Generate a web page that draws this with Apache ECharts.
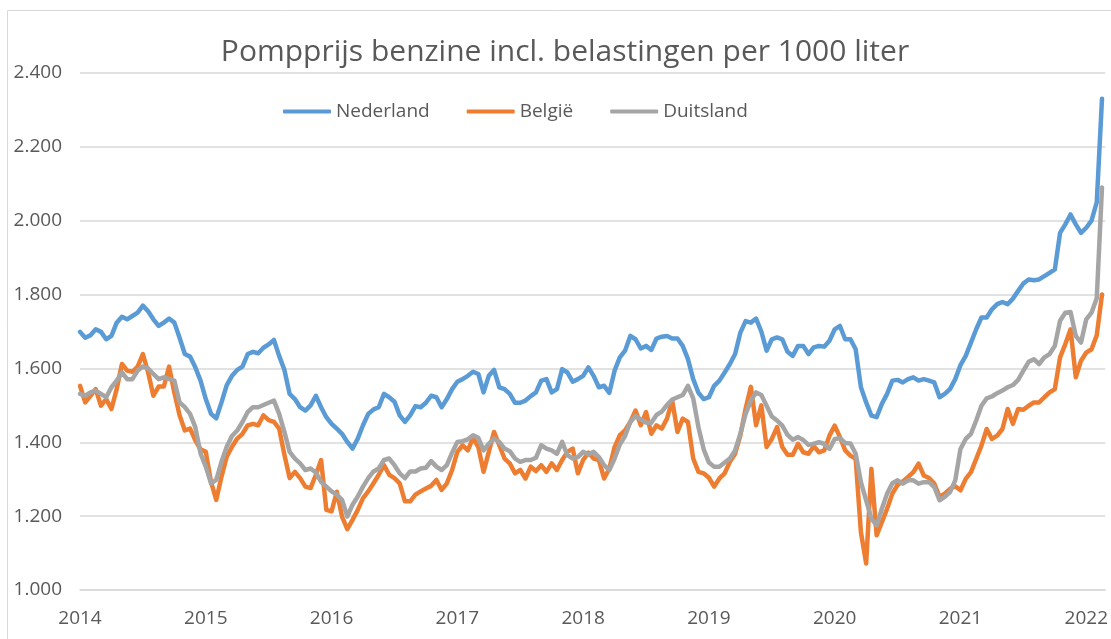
<!DOCTYPE html>
<html>
<head>
<meta charset="utf-8">
<script src="https://cdn.jsdelivr.net/npm/echarts@6/dist/echarts.min.js"></script>
<style>
  html, body { margin: 0; padding: 0; background: #fff; }
  #chart { width: 1111px; height: 639px; }
</style>
</head>
<body>
<div id="chart"></div>
<script>
// half-monthly readings, starting January 2014
const startYear = 2014
const perYear = 24

const yearTicks = [2014, 2015, 2016, 2017, 2018, 2019, 2020, 2021, 2022]

const nederland = [
  1699, 1683, 1690, 1706, 1699, 1679, 1688, 1724, 1740, 1733,
  1742, 1751, 1770, 1755, 1733, 1715, 1724, 1735, 1724, 1683,
  1639, 1632, 1603, 1567, 1517, 1477, 1465, 1508, 1555, 1580,
  1596, 1605, 1639, 1645, 1641, 1656, 1665, 1677, 1634, 1596,
  1531, 1517, 1495, 1486, 1500, 1526, 1495, 1468, 1450, 1437,
  1423, 1401, 1383, 1410, 1446, 1477, 1489, 1495, 1531, 1522,
  1510, 1473, 1455, 1473, 1498, 1495, 1507, 1526, 1522, 1495,
  1517, 1544, 1564, 1571, 1580, 1591, 1585, 1535, 1580, 1596,
  1549, 1544, 1531, 1507, 1507, 1513, 1525, 1535, 1567, 1571,
  1535, 1544, 1598, 1589, 1564, 1571, 1580, 1603, 1580, 1549,
  1553, 1534, 1594, 1630, 1648, 1688, 1679, 1654, 1661, 1650,
  1681, 1686, 1688, 1681, 1681, 1661, 1625, 1571, 1534, 1517,
  1522, 1553, 1567, 1589, 1612, 1639, 1697, 1728, 1724, 1735,
  1700, 1648, 1679, 1684, 1679, 1645, 1634, 1661, 1661, 1639,
  1657, 1661, 1659, 1675, 1706, 1715, 1679, 1679, 1652, 1549,
  1508, 1472, 1468, 1504, 1531, 1567, 1569, 1562, 1571, 1576,
  1567, 1571, 1567, 1562, 1522, 1531, 1544, 1571, 1609, 1634,
  1670, 1706, 1738, 1738, 1760, 1774, 1780, 1774, 1789, 1810,
  1830, 1841, 1839, 1841, 1850, 1859, 1868, 1967, 1990, 2017,
  1990, 1967, 1981, 2000, 2050, 2330
]

const belgie = [
  1553, 1508, 1526, 1544, 1499, 1517, 1490, 1544, 1612, 1594,
  1591, 1605, 1639, 1589, 1526, 1551, 1551, 1605, 1535, 1473,
  1432, 1437, 1405, 1381, 1374, 1293, 1244, 1307, 1361, 1388,
  1410, 1423, 1446, 1450, 1446, 1473, 1460, 1455, 1437, 1366,
  1303, 1320, 1303, 1280, 1276, 1312, 1352, 1217, 1213, 1266,
  1199, 1165, 1190, 1217, 1249, 1267, 1289, 1312, 1338, 1312,
  1303, 1289, 1240, 1240, 1258, 1267, 1275, 1282, 1298, 1271,
  1289, 1325, 1374, 1392, 1378, 1412, 1387, 1320, 1374, 1428,
  1392, 1356, 1343, 1316, 1325, 1302, 1334, 1322, 1338, 1320,
  1343, 1325, 1352, 1374, 1383, 1316, 1352, 1372, 1356, 1352,
  1302, 1329, 1387, 1419, 1432, 1455, 1486, 1446, 1482, 1423,
  1446, 1437, 1464, 1513, 1428, 1464, 1455, 1356, 1320, 1316,
  1304, 1280, 1302, 1316, 1347, 1369, 1419, 1491, 1550, 1446,
  1500, 1387, 1409, 1441, 1387, 1366, 1366, 1396, 1373, 1369,
  1389, 1373, 1378, 1418, 1445, 1414, 1378, 1364, 1355, 1157,
  1072, 1328, 1148, 1184, 1220, 1261, 1285, 1294, 1306, 1319,
  1342, 1310, 1303, 1288, 1252, 1261, 1274, 1281, 1270, 1301,
  1319, 1355, 1391, 1436, 1409, 1418, 1436, 1490, 1450, 1490,
  1488, 1499, 1508, 1508, 1522, 1535, 1544, 1630, 1666, 1706,
  1576, 1621, 1643, 1652, 1690, 1800
]

const duitsland = [
  1531, 1526, 1535, 1540, 1531, 1522, 1549, 1567, 1589, 1571,
  1571, 1594, 1605, 1600, 1585, 1571, 1576, 1571, 1567, 1508,
  1495, 1477, 1441, 1370, 1334, 1289, 1298, 1347, 1388, 1417,
  1432, 1455, 1482, 1495, 1495, 1501, 1507, 1513, 1477, 1428,
  1374, 1356, 1343, 1325, 1329, 1318, 1293, 1280, 1267, 1258,
  1244, 1199, 1231, 1253, 1280, 1303, 1321, 1329, 1352, 1356,
  1338, 1316, 1303, 1321, 1321, 1329, 1331, 1349, 1334, 1325,
  1338, 1372, 1401, 1403, 1408, 1419, 1412, 1378, 1396, 1410,
  1401, 1383, 1376, 1356, 1347, 1352, 1352, 1358, 1392, 1383,
  1378, 1369, 1401, 1365, 1356, 1360, 1374, 1367, 1374, 1360,
  1338, 1325, 1356, 1394, 1417, 1455, 1471, 1462, 1453, 1453,
  1474, 1483, 1501, 1516, 1522, 1528, 1553, 1519, 1441, 1381,
  1345, 1334, 1334, 1345, 1356, 1378, 1423, 1477, 1513, 1535,
  1528, 1499, 1470, 1459, 1445, 1420, 1407, 1414, 1406, 1393,
  1396, 1400, 1396, 1382, 1409, 1411, 1398, 1397, 1369, 1292,
  1243, 1193, 1175, 1220, 1261, 1289, 1297, 1288, 1297, 1297,
  1288, 1292, 1292, 1279, 1243, 1252, 1265, 1297, 1382, 1409,
  1423, 1459, 1499, 1519, 1524, 1533, 1540, 1549, 1555, 1569,
  1594, 1618, 1625, 1612, 1630, 1639, 1661, 1729, 1751, 1753,
  1688, 1670, 1733, 1751, 1790, 2090
]

const names = ['Nederland', 'België', 'Duitsland']
const colors = ['#5b9bd5', '#ed7d31', '#a5a5a5']

const textColor = '#595959'
const font = '"Open Sans", "Noto Sans", sans-serif'

// the picture is cropped on the right: axis runs a little past 2022
const xMax = 2022.15

function toPairs(values) {
  return values.map((v, i) => [startYear + i / perYear, v])
}

function formatNl(v) {
  return (v / 1000).toFixed(3)
}

const chart = echarts.init(document.getElementById('chart'), null, { renderer: 'canvas' })

chart.setOption({
  animation: false,
  backgroundColor: '#ffffff',
  title: {
    text: 'Pompprijs benzine incl. belastingen per 1000 liter',
    left: 560,
    textAlign: 'center',
    top: 32,
    textStyle: { color: textColor, fontFamily: font, fontSize: 30, fontWeight: 'normal' }
  },
  legend: {
    data: names,
    left: 283,
    top: 102,
    padding: 0,
    icon: 'roundRect',
    itemWidth: 48,
    itemHeight: 4,
    itemGap: 37,
    textStyle: { color: textColor, fontFamily: font, fontSize: 19 }
  },
  graphic: [{
    type: 'rect',
    silent: true,
    shape: { x: 7.5, y: 10.5, width: 1200, height: 700 },
    style: { fill: 'none', stroke: '#d9d9d9', lineWidth: 1 }
  }],
  grid: { left: 80, top: 73, bottom: 49, right: 0 },
  xAxis: {
    type: 'value',
    min: yearTicks[0],
    max: xMax,
    interval: 1,
    axisLine: { show: true, lineStyle: { color: '#d9d9d9', width: 1.5 } },
    axisTick: { show: false },
    splitLine: { show: false },
    axisLabel: {
      color: textColor, fontFamily: font, fontSize: 19, margin: 19,
      showMaxLabel: false,
      formatter: v => (yearTicks.includes(v) ? String(v) : '')
    }
  },
  yAxis: {
    type: 'value',
    min: 1000,
    max: 2400,
    interval: 200,
    axisLine: { show: false },
    axisTick: { show: false },
    splitLine: { lineStyle: { color: '#d9d9d9', width: 1.5 } },
    axisLabel: {
      color: textColor, fontFamily: font, fontSize: 19, margin: 18,
      formatter: formatNl
    }
  },
  series: [nederland, belgie, duitsland].map((values, i) => ({
    name: names[i],
    type: 'line',
    data: toPairs(values),
    showSymbol: false,
    symbol: 'none',
    color: colors[i],
    lineStyle: { width: 4.5, color: colors[i], cap: 'round', join: 'round' }
  }))
})
</script>
</body>
</html>
